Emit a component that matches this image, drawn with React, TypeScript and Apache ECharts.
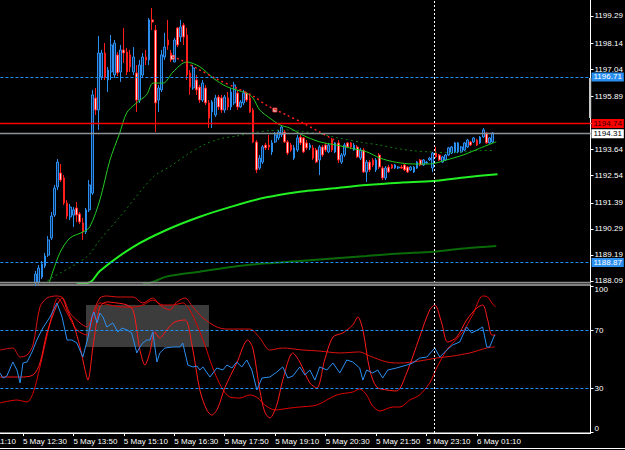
import React, { useEffect, useRef } from "react";
import * as echarts from "echarts";

// ---------- DATA ----------
const N_PAD = 16; // category slots before bar index 0 (chart scrolled to the left)
const LAST_SLOT = 187; // last bar slot (chart shift space on the right)
const FIRST_CANDLE = 11; // first bar visible above the bottom of the price panel

const timeLabels = [
  "5 May 11:10", "5 May 12:30", "5 May 13:50", "5 May 15:10", "5 May 16:30", "5 May 17:50",
  "5 May 19:10", "5 May 20:30", "5 May 21:50", "5 May 23:10", "6 May 01:10",
];
const LABEL_START = -9;
const LABEL_STEP = 16;

const priceTicks = [1188.09, 1189.19, 1190.29, 1191.39, 1192.54, 1193.64, 1194.74, 1195.89, 1197.04, 1198.14, 1199.29];
const rsiTicks = [0, 30, 70, 100];

// [open, close, low, high] for bars 11..156
const candles = [
  [1188.00, 1188.38, 1187.87, 1188.51], [1188.04, 1188.63, 1187.96, 1188.76], [1188.25, 1188.80, 1188.17, 1188.93],
  [1188.72, 1189.14, 1188.63, 1189.27], [1189.18, 1189.82, 1189.10, 1189.98], [1189.90, 1190.83, 1189.82, 1191.00],
  [1190.87, 1192.01, 1190.79, 1192.14], [1192.06, 1193.11, 1191.93, 1193.24], [1192.65, 1192.35, 1192.27, 1193.03],
  [1192.44, 1191.38, 1191.30, 1192.56], [1191.38, 1190.83, 1190.70, 1191.50], [1190.79, 1191.21, 1190.66, 1191.34],
  [1190.87, 1191.09, 1190.37, 1191.21], [1191.17, 1190.87, 1190.58, 1191.42], [1190.92, 1190.58, 1190.49, 1191.00],
  [1190.54, 1190.16, 1189.82, 1190.75], [1190.16, 1191.09, 1190.07, 1191.17], [1191.09, 1192.14, 1191.00, 1192.35],
  [1191.80, 1195.95, 1191.72, 1196.16], [1195.82, 1195.31, 1195.10, 1196.24], [1195.31, 1197.72, 1194.47, 1198.44],
  [1196.71, 1197.72, 1196.58, 1197.85], [1197.72, 1196.71, 1196.58, 1198.14], [1196.58, 1197.00, 1196.07, 1197.13],
  [1196.92, 1198.06, 1196.58, 1198.48], [1196.79, 1198.14, 1196.66, 1198.27], [1197.64, 1196.88, 1196.75, 1197.76],
  [1196.92, 1197.85, 1196.50, 1198.06], [1197.85, 1197.72, 1197.30, 1198.78], [1197.76, 1196.92, 1196.79, 1197.93],
  [1197.64, 1197.13, 1196.92, 1197.85], [1196.92, 1197.55, 1196.79, 1197.97], [1196.88, 1195.73, 1195.23, 1197.21],
  [1195.73, 1197.21, 1195.61, 1197.43], [1196.79, 1197.55, 1196.66, 1197.72], [1197.55, 1197.43, 1197.21, 1197.85],
  [1197.43, 1199.12, 1197.21, 1199.20], [1199.12, 1199.03, 1198.69, 1199.62], [1198.69, 1195.61, 1194.38, 1198.90],
  [1195.73, 1196.24, 1195.23, 1196.37], [1196.16, 1197.64, 1196.07, 1197.85], [1197.55, 1197.97, 1197.43, 1198.57],
  [1198.27, 1198.06, 1197.85, 1199.12], [1197.72, 1197.43, 1197.34, 1197.85], [1197.34, 1198.27, 1197.34, 1198.36],
  [1198.78, 1198.06, 1197.97, 1198.82], [1198.40, 1198.82, 1198.19, 1199.12], [1198.90, 1198.40, 1198.06, 1198.99],
  [1198.48, 1196.79, 1196.58, 1198.78], [1196.88, 1196.28, 1195.95, 1197.00], [1196.24, 1197.09, 1196.16, 1197.21],
  [1196.58, 1196.16, 1195.95, 1196.79], [1196.28, 1195.73, 1195.61, 1196.37], [1195.73, 1196.45, 1195.65, 1196.58],
  [1196.24, 1195.61, 1195.52, 1196.37], [1195.61, 1194.97, 1194.55, 1195.73], [1195.23, 1195.65, 1194.55, 1195.73],
  [1195.10, 1195.82, 1195.02, 1195.95], [1195.86, 1195.44, 1195.31, 1195.95], [1195.82, 1195.31, 1195.19, 1195.95],
  [1195.31, 1195.86, 1195.19, 1195.95], [1195.82, 1195.44, 1195.31, 1196.07], [1195.44, 1196.07, 1195.31, 1196.24],
  [1195.61, 1196.37, 1195.52, 1196.50], [1196.03, 1195.44, 1195.31, 1196.16], [1195.44, 1195.65, 1195.40, 1195.73],
  [1195.61, 1196.03, 1195.52, 1196.16], [1196.03, 1195.73, 1195.65, 1196.07], [1195.82, 1195.23, 1195.19, 1195.95],
  [1195.31, 1193.96, 1193.92, 1195.40], [1193.96, 1192.78, 1192.65, 1194.04], [1192.86, 1193.28, 1192.78, 1193.41],
  [1193.11, 1193.75, 1193.03, 1193.83], [1193.83, 1193.71, 1193.62, 1193.92], [1193.83, 1193.75, 1193.62, 1194.26],
  [1193.54, 1193.92, 1193.41, 1194.04], [1193.96, 1194.26, 1193.92, 1194.38], [1194.13, 1194.38, 1194.04, 1194.47],
  [1194.26, 1194.59, 1194.17, 1194.68], [1194.38, 1193.96, 1193.92, 1194.47], [1193.96, 1193.49, 1193.41, 1194.04],
  [1193.83, 1193.62, 1193.54, 1193.92], [1193.28, 1193.71, 1193.20, 1193.83], [1193.62, 1194.13, 1193.54, 1194.26],
  [1194.17, 1193.92, 1193.83, 1194.26], [1194.13, 1193.54, 1193.49, 1194.17], [1193.92, 1193.71, 1193.62, 1194.04],
  [1193.71, 1193.83, 1193.62, 1193.92], [1193.71, 1193.28, 1193.20, 1193.83], [1193.62, 1193.11, 1193.07, 1193.71],
  [1193.20, 1193.75, 1192.56, 1193.83], [1193.75, 1193.41, 1193.33, 1193.83], [1193.83, 1193.62, 1193.54, 1193.92],
  [1193.54, 1193.83, 1193.49, 1193.92], [1194.04, 1193.62, 1193.54, 1194.13], [1193.54, 1193.92, 1193.49, 1193.96],
  [1193.92, 1193.20, 1193.07, 1194.04], [1193.11, 1193.41, 1193.03, 1193.49], [1193.41, 1193.83, 1193.33, 1193.92],
  [1193.92, 1193.75, 1193.71, 1193.96], [1193.92, 1193.75, 1193.66, 1193.96], [1193.62, 1193.83, 1193.58, 1193.92],
  [1193.75, 1193.33, 1193.28, 1193.83], [1193.28, 1193.62, 1193.20, 1193.71], [1193.62, 1192.69, 1192.65, 1193.71],
  [1192.69, 1193.11, 1192.27, 1193.20], [1193.11, 1192.78, 1192.69, 1193.20], [1193.20, 1192.99, 1192.90, 1193.28],
  [1192.78, 1193.20, 1192.69, 1193.28], [1193.41, 1192.90, 1192.82, 1193.49], [1192.86, 1192.44, 1192.35, 1192.94],
  [1192.44, 1192.86, 1192.35, 1192.94], [1192.90, 1192.69, 1192.65, 1192.99], [1192.99, 1192.86, 1192.82, 1193.03],
  [1192.86, 1192.99, 1192.82, 1193.03], [1192.86, 1192.90, 1192.82, 1192.94], [1192.90, 1192.86, 1192.82, 1192.99],
  [1192.99, 1192.78, 1192.73, 1193.03], [1192.90, 1192.69, 1192.65, 1192.94], [1192.78, 1192.90, 1192.73, 1192.94],
  [1192.69, 1192.90, 1192.65, 1192.94], [1192.86, 1193.11, 1192.82, 1193.16], [1193.20, 1192.99, 1192.94, 1193.24],
  [1192.99, 1193.20, 1192.94, 1193.24], [1193.07, 1193.11, 1193.03, 1193.16], [1193.20, 1193.28, 1193.16, 1193.33],
  [1192.86, 1193.49, 1192.69, 1193.54], [1193.49, 1193.33, 1193.28, 1193.75], [1193.41, 1193.20, 1193.16, 1193.45],
  [1193.11, 1193.33, 1193.07, 1193.37], [1193.20, 1193.41, 1193.16, 1193.45], [1193.41, 1193.71, 1193.37, 1193.75],
  [1193.49, 1193.75, 1193.45, 1193.79], [1193.54, 1193.92, 1193.49, 1193.96], [1193.54, 1193.92, 1193.49, 1193.96],
  [1193.54, 1193.75, 1193.49, 1193.79], [1193.62, 1193.92, 1193.58, 1193.96], [1193.75, 1194.04, 1193.71, 1194.09],
  [1193.96, 1193.83, 1193.79, 1194.00], [1193.96, 1194.13, 1193.92, 1194.17], [1194.04, 1193.83, 1193.79, 1194.09],
  [1193.92, 1194.17, 1193.88, 1194.21], [1194.17, 1194.47, 1194.13, 1194.55], [1194.34, 1193.92, 1193.88, 1194.38],
  [1193.92, 1194.13, 1193.88, 1194.17], [1193.96, 1194.34, 1193.92, 1194.38],
];

// moving averages: [bar index, price]
const maFast = [
  [15.3, 1188.0], [18.7, 1189.27], [21.9, 1189.9], [26.1, 1190.16], [28.2, 1190.37], [31.4, 1191.51], [34.6, 1193.2],
  [37.7, 1194.34], [39.9, 1195.19], [43, 1195.61], [46.2, 1195.95], [48.3, 1196.45], [51.5, 1196.45], [54.6, 1196.92],
  [58.9, 1197.34], [63.1, 1197.14], [67.3, 1196.66], [71.6, 1196.3], [77.9, 1196.02], [80, 1195.81], [82.1, 1195.31],
  [85.3, 1194.97], [88.5, 1194.68], [91.6, 1194.55], [95.5, 1194.26], [101, 1193.97], [106.4, 1193.83], [110.6, 1193.71],
  [115.9, 1193.55], [120.2, 1193.28], [125.4, 1193.1], [130.7, 1193.03], [136, 1193.03], [141.3, 1193.2], [146.6, 1193.41],
  [151.8, 1193.69], [157.1, 1193.97],
];
const maDotted = [
  [13.5, 1187.95], [16.1, 1188.21], [27.2, 1189.1], [31.4, 1189.82], [37.7, 1190.79], [48.3, 1192.48], [53.6, 1192.92],
  [58.9, 1193.41], [64.2, 1193.83], [69.4, 1194.09], [74.7, 1194.21], [80, 1194.35], [85.3, 1194.44], [90.6, 1194.47],
  [95.8, 1194.4], [101.1, 1194.3], [106.4, 1194.15], [114.9, 1193.93], [120.2, 1193.83], [125.4, 1193.69], [130.7, 1193.59],
  [136, 1193.54], [141.3, 1193.51], [146.6, 1193.54], [151.8, 1193.6], [156.6, 1193.6],
];
const maBright = [
  [24, 1187.95], [28.5, 1188.05], [31.4, 1188.51], [42, 1189.53], [52.5, 1190.24], [63.1, 1190.8], [73.7, 1191.25],
  [84.2, 1191.62], [94.8, 1191.86], [100, 1191.93], [105.4, 1192.0], [115.9, 1192.14], [126.5, 1192.24], [137.1, 1192.31],
  [147.6, 1192.47], [157.5, 1192.6],
];
const maDark = [
  [45, 1187.95], [48, 1188.03], [52.5, 1188.27], [63.1, 1188.48], [73.7, 1188.69], [84.2, 1188.83], [94.8, 1188.93],
  [105.4, 1189.04], [115.9, 1189.14], [126.5, 1189.25], [137.1, 1189.32], [147.6, 1189.47], [157.1, 1189.56],
];
const redDotted = [
  [54.3, 1197.55], [57, 1197.43], [63.1, 1197.0], [68.5, 1196.62], [74.7, 1196.24], [80, 1195.9], [84.2, 1195.52],
  [90.6, 1195.1], [95.8, 1194.76], [101.1, 1194.38], [106.4, 1194.0],
];
const arrowMarks = [[54.4, 1197.54], [86.9, 1195.31]];

const hLevels = { blueHigh: 1196.71, blueLow: 1188.87, red: 1194.74, bid: 1194.31 };
const cursorBar = 137.4;

// oscillator panel: [bar index, value]
const rsiBlue = [
  [-0.3, 40.6], [0.7, 37.1], [1.9, 38.5], [3.8, 48.1], [5.1, 42.6], [6.1, 33.7], [7.0, 47.4], [8.3, 48.1], [9.9, 55.0],
  [11.4, 63.2], [13.3, 71.4], [15.6, 79.0], [17.8, 88.6], [19.4, 79.0], [21.0, 63.2], [22.5, 63.2], [24.1, 61.1],
  [26.0, 51.5], [27.6, 64.6], [28.9, 79.0], [29.5, 82.4], [30.5, 74.9], [31.4, 81.7], [32.4, 79.0], [33.6, 72.1],
  [35.5, 74.9], [37.1, 68.7], [38.4, 71.4], [40.0, 70.1], [41.5, 68.0], [43.1, 54.3], [44.1, 58.4], [45.0, 61.1],
  [46.3, 63.2], [47.3, 63.2], [48.2, 68.7], [49.5, 48.1], [50.4, 54.3], [52.0, 57.7], [54.5, 58.4], [56.8, 58.4],
  [57.7, 61.1], [59.3, 46.0], [60.9, 44.7], [62.2, 45.3], [63.1, 42.6], [64.1, 44.7], [66.3, 37.8], [68.5, 44.0],
  [70.4, 42.6], [71.7, 46.0], [73.3, 44.0], [74.8, 48.1], [76.4, 44.7], [78.0, 49.5], [79.6, 42.6], [81.2, 28.9],
  [82.8, 37.1], [85.3, 37.8], [87.5, 41.2], [89.4, 44.7], [91.0, 37.1], [92.6, 38.5], [94.8, 44.7], [96.4, 39.2],
  [98.0, 42.6], [99.6, 35.7], [101.1, 44.7], [103.4, 42.6], [105.3, 47.4], [107.5, 40.6], [109.7, 49.5], [111.6, 48.1],
  [113.8, 44.0], [114.8, 35.7], [116.0, 42.6], [117.9, 40.6], [119.5, 42.6], [121.1, 37.1], [122.7, 42.6], [125.5, 44.0],
  [128.7, 46.0], [130.6, 47.4], [132.8, 50.8], [135.1, 51.5], [137.6, 57.7], [139.2, 51.5], [141.4, 56.3], [143.3, 59.8],
  [145.5, 61.8], [147.7, 72.1], [149.3, 68.0], [151.2, 70.1], [152.8, 72.1], [154.1, 58.4], [155.0, 58.4], [156.6, 66.6],
];
const redA = [
  [-0.3, 56.3], [3.8, 57.7], [6.1, 51.5], [8.3, 52.9], [10.2, 59.8], [12.4, 85.8], [14.6, 92.0], [17.8, 93.4], [19.7, 92.0],
  [21.9, 81.7], [25.1, 74.9], [27.3, 72.1], [29.2, 81.7], [31.4, 92.0], [33.6, 93.4], [36.8, 92.7], [41.9, 92.7],
  [45.0, 88.6], [48.2, 92.0], [50.4, 87.2], [53.6, 83.8], [55.8, 89.3], [58.4, 92.0], [60.9, 85.8], [64.1, 78.3],
  [68.5, 72.1], [71.7, 70.7], [78.9, 70.7], [82.1, 64.6], [85.3, 56.3], [89.4, 57.7], [95.8, 56.3], [101.1, 55.6],
  [107.5, 54.3], [113.8, 55.0], [117.0, 52.2], [122.4, 48.1], [126.5, 47.4], [132.8, 48.8], [138.2, 50.8], [143.3, 52.2],
  [148.7, 54.3], [154.1, 57.7], [156.6, 58.4],
];
const redB = [
  [-0.3, 37.8], [6.1, 37.8], [10.2, 39.2], [12.4, 47.4], [14.6, 68.0], [17.8, 87.2], [19.4, 92.0], [21.0, 83.8],
  [22.9, 74.9], [25.1, 58.4], [26.7, 42.6], [27.6, 35.7], [29.2, 58.4], [31.4, 85.8], [33.6, 89.3], [36.8, 88.6],
  [40.0, 87.2], [41.9, 83.8], [43.1, 70.1], [44.1, 56.3], [45.7, 46.0], [47.3, 55.0], [48.8, 68.7], [50.4, 64.6],
  [52.6, 70.1], [55.2, 75.6], [58.4, 76.9], [60.6, 59.8], [63.1, 28.9], [65.3, 15.2], [66.9, 11.7], [68.8, 16.5],
  [71.0, 30.3], [74.8, 47.4], [78.3, 63.2], [79.9, 57.7], [82.1, 28.9], [83.7, 13.8], [85.3, 9.7], [87.5, 18.6],
  [89.4, 35.7], [92.6, 54.3], [94.8, 48.1], [98.0, 33.7], [100.2, 30.3], [102.7, 49.5], [105.3, 65.2], [108.4, 68.0],
  [111.6, 73.5], [113.2, 79.0], [114.8, 70.1], [117.0, 42.6], [119.2, 30.9], [122.4, 28.9], [125.5, 28.2], [128.7, 40.6],
  [132.8, 65.2], [136.0, 83.8], [137.6, 87.2], [139.8, 74.9], [141.7, 61.8], [144.6, 65.2], [147.7, 76.9], [150.9, 85.1],
  [152.8, 87.2], [154.4, 76.9], [155.7, 66.6], [156.9, 66.6],
];
const redC = [
  [-0.3, 20.0], [5.1, 22.0], [8.3, 20.7], [10.2, 26.8], [12.4, 44.7], [15.6, 74.9], [18.1, 92.0], [21.0, 81.7],
  [24.1, 70.1], [27.3, 66.6], [29.2, 76.9], [31.4, 88.6], [34.6, 87.2], [38.7, 85.8], [41.9, 85.8], [45.0, 87.2],
  [48.2, 90.6], [51.4, 87.2], [54.5, 87.2], [57.7, 88.6], [59.9, 83.8], [62.2, 73.5], [64.7, 59.8], [67.2, 44.0],
  [70.1, 30.3], [72.6, 24.1], [75.8, 23.4], [79.0, 25.5], [81.5, 23.4], [83.7, 18.6], [86.9, 15.2], [91.6, 16.5],
  [94.8, 17.2], [100.2, 18.6], [106.5, 25.5], [111.6, 27.5], [113.8, 29.6], [116.0, 25.5], [117.9, 17.9], [120.2, 14.5],
  [124.3, 17.2], [126.5, 17.2], [129.7, 22.0], [132.8, 25.5], [136.0, 33.7], [138.2, 44.0], [141.4, 56.3], [143.3, 61.1],
  [146.5, 68.7], [149.6, 80.3], [152.8, 93.4], [154.4, 92.7], [155.7, 88.6], [156.9, 85.8],
];
const shadedZone = { fromBar: 27.0, toBar: 66.0, high: 87.2, low: 58.4 };
const rsiLevels = [70, 30];

// ---------- OPTION ----------
const FONT = "Liberation Sans, Arial, sans-serif";
const categories = Array.from({ length: LAST_SLOT + N_PAD + 1 }, (_, k) => String(k - N_PAD));
const candleData = [...Array(N_PAD + FIRST_CANDLE).fill("-"), ...candles];
const isLabelSlot = (k: number) => {
  const j = (k - N_PAD - LABEL_START) / LABEL_STEP;
  return Number.isInteger(j) && j >= 0 && j < timeLabels.length;
};

const gridLeft = -49.58;
const gridRight = 34.5;

const levelLabel = (bg: string, fg: string) => ({
  show: true,
  position: "end",
  distance: 1,
  backgroundColor: bg,
  color: fg,
  fontSize: 8,
  fontFamily: FONT,
  padding: [1, 2, 0, 2],
  lineHeight: 8,
  formatter: (p: any) => Number(p.value).toFixed(2),
});

function buildOption(): any {
  return {
    animation: false,
    backgroundColor: "#000000",
    textStyle: { fontFamily: FONT },
    grid: [
      { left: gridLeft, right: gridRight, top: 0, bottom: 167, containLabel: false, outerBoundsMode: "none" },
      {
        left: gridLeft, right: gridRight, top: 285, bottom: 17, containLabel: false, outerBoundsMode: "none",
        show: true, borderColor: "#ffffff", borderWidth: 1,
      },
    ],
    xAxis: [
      { type: "category", gridIndex: 0, data: categories, boundaryGap: false, show: false },
      { type: "value", gridIndex: 0, min: -N_PAD, max: LAST_SLOT, show: false },
      {
        type: "category",
        gridIndex: 1,
        data: categories,
        boundaryGap: false,
        position: "bottom",
        axisLine: { show: true, onZero: false, lineStyle: { color: "#ffffff" } },
        axisTick: { show: true, length: 3, interval: (k: number) => isLabelSlot(k), lineStyle: { color: "#ffffff" } },
        axisLabel: {
          show: true,
          interval: (k: number) => isLabelSlot(k),
          align: "left",
          margin: 4,
          color: "#ffffff",
          fontSize: 8,
          fontFamily: FONT,
          formatter: (val: string) => {
            const j = (Number(val) - LABEL_START) / LABEL_STEP;
            return Number.isInteger(j) && j >= 0 && j < timeLabels.length ? timeLabels[j] : "";
          },
        },
        splitLine: { show: false },
      },
      { type: "value", gridIndex: 1, min: -N_PAD, max: LAST_SLOT, show: false, position: "top" },
    ],
    yAxis: [
      {
        type: "value",
        gridIndex: 0,
        position: "right",
        min: 1188.0,
        max: 1199.96,
        axisLine: { show: true, onZero: false, lineStyle: { color: "#ffffff" } },
        axisTick: { show: true, length: 3, lineStyle: { color: "#ffffff" }, customValues: priceTicks },
        axisLabel: {
          show: true,
          color: "#ffffff",
          fontSize: 8,
          fontFamily: FONT,
          margin: 4,
          customValues: priceTicks,
          formatter: (v: number) => v.toFixed(2),
        },
        splitLine: { show: false },
      },
      {
        type: "value",
        gridIndex: 1,
        position: "right",
        min: -0.62,
        max: 100.93,
        axisLine: { show: true, onZero: false, lineStyle: { color: "#ffffff" } },
        axisTick: { show: true, length: 3, lineStyle: { color: "#ffffff" }, customValues: rsiTicks },
        axisLabel: {
          show: true,
          showMaxLabel: true,
          showMinLabel: true,
          hideOverlap: false,
          color: "#ffffff",
          fontSize: 8,
          fontFamily: FONT,
          margin: 4,
          customValues: rsiTicks,
          formatter: (v: number) => (v === 100 ? "{t|100}" : v === 0 ? "{b|0}" : String(v)),
          rich: {
            t: { padding: [7, 0, 0, 0], color: "#ffffff", fontSize: 8, fontFamily: FONT },
            b: { padding: [0, 0, 7, 0], color: "#ffffff", fontSize: 8, fontFamily: FONT },
          },
        },
        splitLine: { show: false },
      },
    ],
    graphic: [
      { type: "rect", shape: { x: 0, y: 281.8, width: 590.5, height: 1.6 }, style: { fill: "#8c8c8c" }, z: 50 },
      { type: "rect", shape: { x: 589, y: 78, width: 2.2, height: 40 }, style: { fill: "#c8c8c8" }, z: 50 },
      { type: "line", shape: { x1: 0, y1: 448.5, x2: 625, y2: 448.5 }, style: { stroke: "#ffffff", lineWidth: 1 }, z: 50 },
    ],
    series: [
      {
        type: "candlestick",
        xAxisIndex: 0,
        yAxisIndex: 0,
        data: candleData,
        barWidth: 2.2,
        clip: true,
        itemStyle: {
          color: "#0b2a55",
          color0: "#ffd6d6",
          borderColor: "#2b8ff0",
          borderColor0: "#ff1e1e",
          borderWidth: 1,
        },
        markLine: {
          symbol: "none",
          silent: true,
          animation: false,
          data: [
            { yAxis: hLevels.blueHigh, lineStyle: { color: "#1e90ff", type: [3, 2], width: 1 }, label: levelLabel("#2b8ff0", "#ffffff") },
            { yAxis: hLevels.blueLow, lineStyle: { color: "#1e90ff", type: [3, 2], width: 1 }, label: levelLabel("#2b8ff0", "#ffffff") },
            { yAxis: hLevels.bid, lineStyle: { color: "#8a9296", type: "solid", width: 1.3 }, label: levelLabel("#ffffff", "#000000") },
            { yAxis: hLevels.red, lineStyle: { color: "#ff0000", type: "solid", width: 1.3 }, label: levelLabel("#ff0000", "#300000") },
          ],
        },
      },
      {
        type: "line", xAxisIndex: 1, yAxisIndex: 0, data: maDark, showSymbol: false, smooth: 0.3,
        lineStyle: { color: "#0a6a0a", width: 2 },
      },
      {
        type: "line", xAxisIndex: 1, yAxisIndex: 0, data: maBright, showSymbol: false, smooth: 0.3,
        lineStyle: { color: "#22f022", width: 2 },
      },
      {
        type: "line", xAxisIndex: 1, yAxisIndex: 0, data: maDotted, showSymbol: false, smooth: 0.3,
        lineStyle: { color: "#127a12", width: 1, type: [2, 3] },
      },
      {
        type: "line", xAxisIndex: 1, yAxisIndex: 0, data: maFast, showSymbol: false, smooth: 0.3,
        lineStyle: { color: "#22cc22", width: 1 },
        markLine: {
          symbol: "none", silent: true, animation: false, label: { show: false },
          lineStyle: { color: "#ffffff", type: [2, 2], width: 1 },
          data: [{ xAxis: cursorBar }],
        },
      },
      {
        type: "line", xAxisIndex: 1, yAxisIndex: 0, data: redDotted, showSymbol: false, smooth: 0.3,
        lineStyle: { color: "#ff2020", width: 1.5, type: [2, 3] },
      },
      {
        type: "scatter", xAxisIndex: 1, yAxisIndex: 0, data: arrowMarks, symbol: "rect", symbolSize: 4,
        itemStyle: { color: "#ffffff", borderColor: "#ff3030", borderWidth: 1 },
      },
      {
        type: "line", xAxisIndex: 3, yAxisIndex: 1, data: redC, showSymbol: false, smooth: 0.3,
        lineStyle: { color: "#e00000", width: 1 },
      },
      {
        type: "line", xAxisIndex: 3, yAxisIndex: 1, data: redA, showSymbol: false, smooth: 0.3,
        lineStyle: { color: "#dd1111", width: 1 },
      },
      {
        type: "line", xAxisIndex: 3, yAxisIndex: 1, data: redB, showSymbol: false, smooth: 0.3,
        lineStyle: { color: "#ff1a1a", width: 1 },
      },
      {
        type: "line", xAxisIndex: 3, yAxisIndex: 1, data: rsiBlue, showSymbol: false, smooth: false,
        lineStyle: { color: "#2b8ff0", width: 1 },
        markLine: {
          symbol: "none", silent: true, animation: false, label: { show: false },
          data: [
            ...rsiLevels.map((v) => ({ yAxis: v, lineStyle: { color: "#1e90ff", type: [3, 2], width: 1 } })),
            { xAxis: cursorBar, lineStyle: { color: "#ffffff", type: [2, 2], width: 1 } },
          ],
        },
        markArea: {
          silent: true,
          itemStyle: { color: "#3c3c3c" },
          data: [[
            { xAxis: shadedZone.fromBar, yAxis: shadedZone.high },
            { xAxis: shadedZone.toBar, yAxis: shadedZone.low },
          ]],
        },
      },
    ],
  };
}

export default function App() {
  const ref = useRef<HTMLDivElement>(null);
  useEffect(() => {
    if (!ref.current) return;
    const chart = echarts.init(ref.current, null, { renderer: "svg" });
    chart.setOption(buildOption());
    return () => chart.dispose();
  }, []);
  return (
    <div
      ref={ref}
      style={{ position: "fixed", left: 0, top: 0, width: 625, height: 450, background: "#000" }}
    />
  );
}
